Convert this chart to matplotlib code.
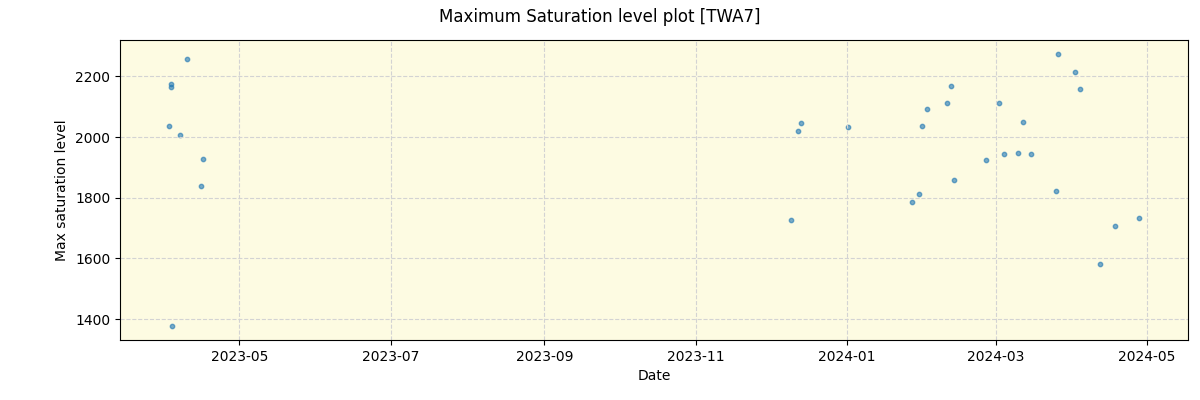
import matplotlib
matplotlib.use("Agg")
import matplotlib.pyplot as plt
import matplotlib.dates as mdates
import pandas as pd

dates = [
    "2023-04-02 12:00", "2023-04-03 07:00", "2023-04-03 07:00", "2023-04-04 02:00",
    "2023-04-07 07:00", "2023-04-10 02:00", "2023-04-15 10:00", "2023-04-16 05:00",
    "2023-12-09 12:00", "2023-12-12 07:00", "2023-12-13 12:00", "2024-01-01 12:00",
    "2024-01-27 07:00", "2024-01-30 02:00", "2024-01-31 07:00", "2024-02-02 10:00",
    "2024-02-10 10:00", "2024-02-12 00:00", "2024-02-13 07:00", "2024-02-26 05:00",
    "2024-03-02 10:00", "2024-03-04 10:00", "2024-03-10 02:00", "2024-03-12 02:00",
    "2024-03-15 07:00", "2024-03-25 10:00", "2024-03-26 05:00", "2024-04-02 02:00",
    "2024-04-04 02:00", "2024-04-12 05:00", "2024-04-18 05:00", "2024-04-27 23:00",
]
max_sat = [
    2037, 2176, 2166, 1376,
    2007, 2256, 1839, 1928,
    1726, 2020, 2047, 2034,
    1786, 1812, 2037, 2093,
    2113, 2169, 1859, 1925,
    2113, 1944, 1947, 2050,
    1944, 1822, 2275, 2216,
    2159, 1581, 1706, 1733,
]

x = pd.to_datetime(dates)

fig, ax = plt.subplots(figsize=(12, 4), dpi=100)
fig.subplots_adjust(left=0.1, right=0.99, top=0.9, bottom=0.15)
ax.set_facecolor("#fdfbe2")
ax.scatter(x, max_sat, s=10, color="tab:blue", alpha=0.6)
ax.grid(True, linestyle="--", color="lightgray")
ax.xaxis.set_major_locator(mdates.MonthLocator(bymonth=[1, 3, 5, 7, 9, 11]))
ax.xaxis.set_major_formatter(mdates.DateFormatter("%Y-%m"))
ax.set_xlabel("Date")
ax.set_ylabel("Max saturation level")
fig.suptitle("Maximum Saturation level plot [TWA7]")
fig.savefig("out.png")
